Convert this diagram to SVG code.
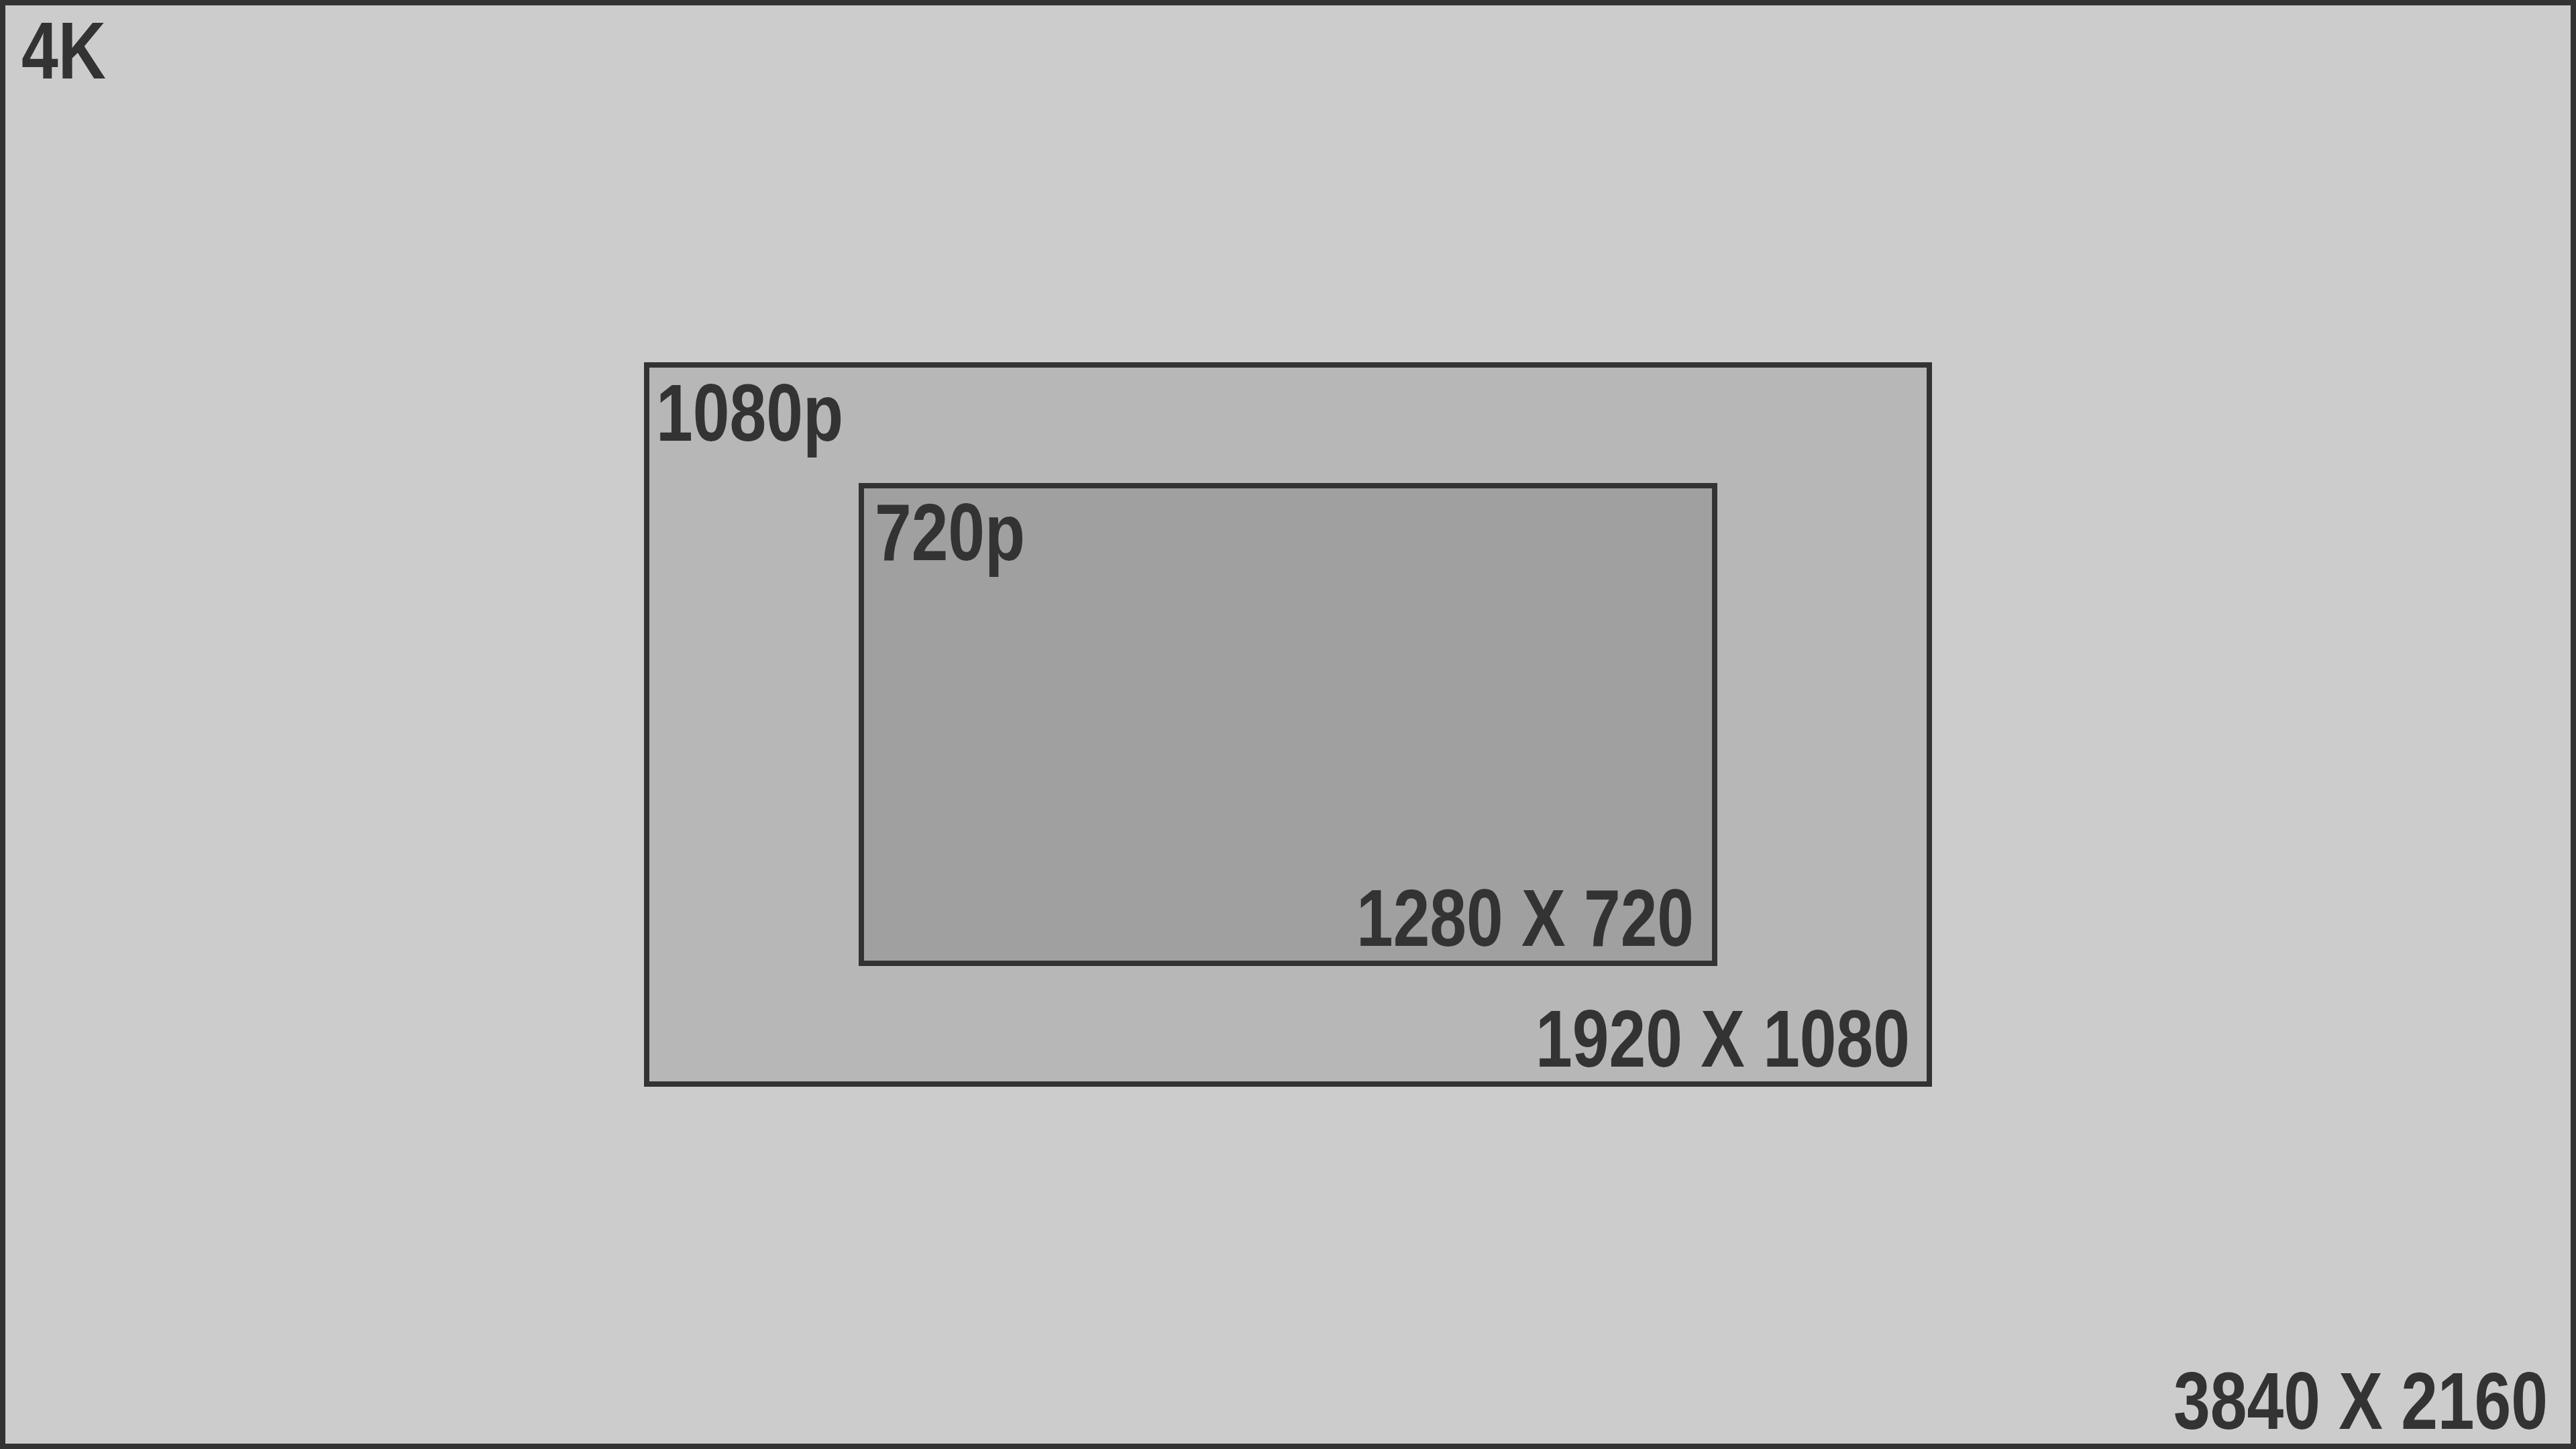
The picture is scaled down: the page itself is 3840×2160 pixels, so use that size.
<svg xmlns="http://www.w3.org/2000/svg" width="3840" height="2160" viewBox="0 0 3840 2160">
<style>
.box{stroke:#333333;stroke-width:8}
.lbl{font-family:"Liberation Sans Narrow","Liberation Sans",Arial,sans-serif;font-weight:bold;font-size:120px;fill:#333333}
.dim{text-anchor:end}
</style>
<g id="res-4k">
<rect class="box" x="4" y="4" width="3832" height="2152" fill="#cccccc"/>
<text class="lbl" x="32" y="117" textLength="126" lengthAdjust="spacingAndGlyphs">4K</text>
<text class="lbl dim" x="3798" y="2130" textLength="558" lengthAdjust="spacingAndGlyphs">3840 X 2160</text>
</g>
<g id="res-1080p">
<rect class="box" x="964" y="544" width="1912" height="1072" fill="#b7b7b7"/>
<text class="lbl" x="978" y="657" textLength="279" lengthAdjust="spacingAndGlyphs">1080p</text>
<text class="lbl dim" x="2847" y="1590" textLength="558" lengthAdjust="spacingAndGlyphs">1920 X 1080</text>
</g>
<g id="res-720p">
<rect class="box" x="1284" y="724" width="1272" height="712" fill="#a0a0a0"/>
<text class="lbl" x="1304" y="835" textLength="224" lengthAdjust="spacingAndGlyphs">720p</text>
<text class="lbl dim" x="2525" y="1410" textLength="503" lengthAdjust="spacingAndGlyphs">1280 X 720</text>
</g>
<g id="connectors"/>
</svg>
